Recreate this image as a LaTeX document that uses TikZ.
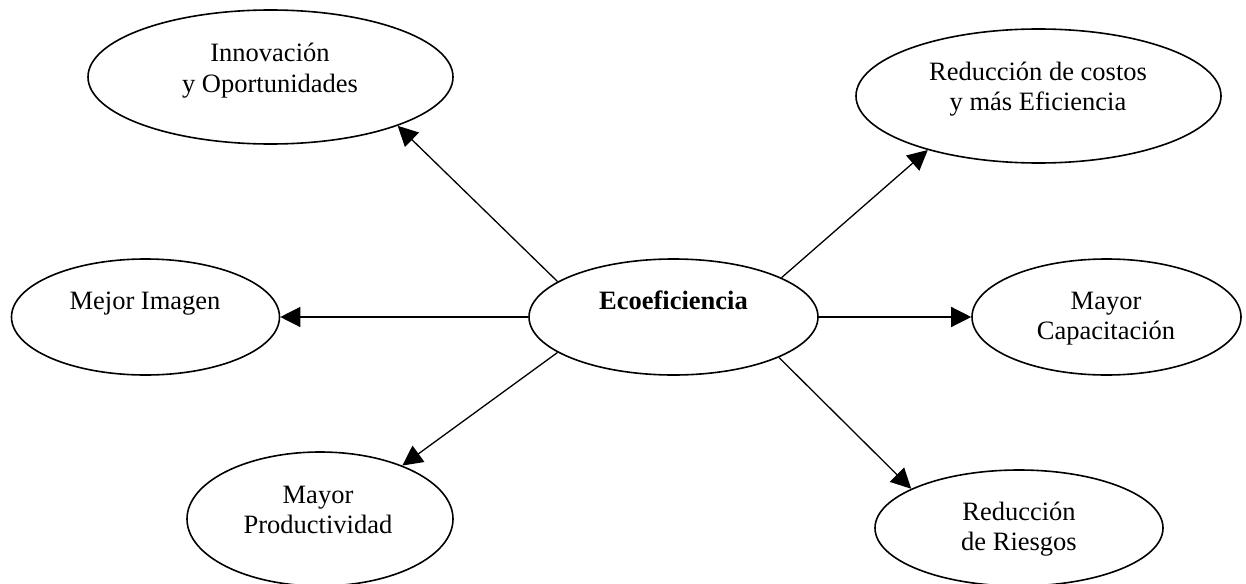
\documentclass[tikz,border=0pt]{standalone}
\usepackage{fontspec}
\setmainfont{Liberation Serif}
\usetikzlibrary{shapes.geometric,arrows.meta}

\begin{document}
\begin{tikzpicture}[x=0.5pt,y=-0.5pt,>={Triangle[length=10pt,width=10pt]},
  elip/.style={ellipse,draw,line width=0.8pt,inner sep=0pt},
  txt/.style={anchor=base,inner sep=0pt,font=\fontsize{13.25}{15}\selectfont}]
\useasboundingbox (0,0) rectangle (1246,583);

 \node[elip,minimum width=182.5pt,minimum height=67pt] (inno) at (270.5,77) {};
 \node[txt] (inno_a) at (270,62) {Innovación};
 \node[txt] (inno_b) at (270,92) {y Oportunidades};

 \node[elip,minimum width=182.5pt,minimum height=67pt] (cost) at (1038.5,96) {};
 \node[txt] (cost_a) at (1038,81) {Reducción de costos};
 \node[txt] (cost_b) at (1038,111) {y más Eficiencia};

 \node[elip,minimum width=134pt,minimum height=58pt] (imag) at (145.5,317) {};
 \node[txt] (imag_a) at (145,309) {Mejor Imagen};

 \node[elip,minimum width=144.5pt,minimum height=58pt] (eco) at (673.5,317) {};
 \node[txt,font=\fontsize{13.25}{15}\selectfont\bfseries] (eco_a) at (673.5,309) {Ecoeficiencia};

 \node[elip,minimum width=134.5pt,minimum height=58pt] (capa) at (1106.5,317) {};
 \node[txt] (capa_a) at (1106,309) {Mayor};
 \node[txt] (capa_b) at (1106,339) {Capacitación};

 \node[elip,minimum width=133pt,minimum height=67pt] (prod) at (320,519) {};
 \node[txt] (prod_a) at (318,503) {Mayor};
 \node[txt] (prod_b) at (318,533) {Productividad};

 \node[elip,minimum width=144pt,minimum height=58pt] (ries) at (1019,528) {};
 \node[txt] (ries_a) at (1019,520) {Reducción};
 \node[txt] (ries_b) at (1019,550) {de Riesgos};

 % flechas desde el centro
 \draw[->,line width=0.65pt] (eco.163) -- (inno.-21);
 \draw[->,line width=0.65pt] (eco.20) -- (cost.-154);
 \draw[->,line width=0.65pt] (eco.west) -- (imag.east);
 \draw[->,line width=0.65pt] (eco.east) -- (capa.west);
 \draw[->,line width=0.65pt] (eco.-163) -- (prod.33);
 \draw[->,line width=0.65pt] (eco.-21) -- (ries.160);

\end{tikzpicture}
\end{document}
